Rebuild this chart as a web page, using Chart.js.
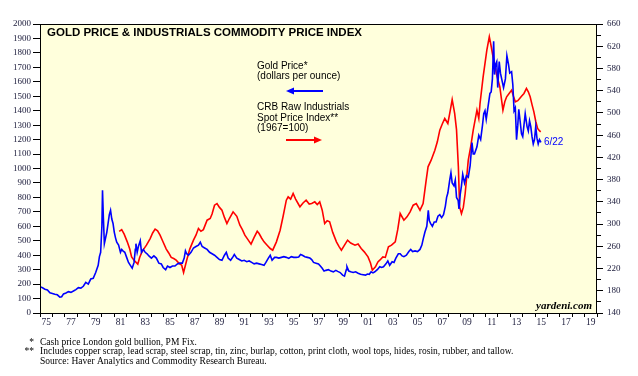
<!DOCTYPE html>
<html>
<head>
<meta charset="utf-8">
<script src="https://cdn.jsdelivr.net/npm/chart.js@4/dist/chart.umd.min.js"></script>
<style>
  body { margin: 0; background: #fff; }
  #wrap { width: 638px; height: 376px; }
</style>
</head>
<body>
<div id="wrap"><canvas id="chart" width="638" height="376"></canvas></div>
<script>
// gold price, dollars per ounce (left axis)
const goldDates = [
  1975.0, 1975.2, 1975.4, 1975.6, 1975.8,
  1976.0, 1976.2, 1976.4, 1976.6, 1976.75, 1976.9,
  1977.1, 1977.3, 1977.5, 1977.7, 1977.9,
  1978.1, 1978.3, 1978.5, 1978.7, 1978.9,
  1979.1, 1979.3, 1979.5, 1979.7, 1979.8, 1979.9,
  1980.0, 1980.05, 1980.12, 1980.2, 1980.3, 1980.4, 1980.5, 1980.6, 1980.7, 1980.8, 1980.9,
  1981.0, 1981.1, 1981.2, 1981.35, 1981.5, 1981.6, 1981.7, 1981.85,
  1982.0, 1982.15, 1982.3, 1982.45, 1982.6, 1982.7, 1982.75, 1982.85, 1982.95,
  1983.1, 1983.2, 1983.35, 1983.5, 1983.65, 1983.8,
  1984.0, 1984.2, 1984.4, 1984.6, 1984.8, 1984.95,
  1985.15, 1985.3, 1985.5, 1985.7, 1985.9,
  1986.1, 1986.3, 1986.5, 1986.65, 1986.75, 1986.85,
  1987.0, 1987.2, 1987.4, 1987.6, 1987.8, 1987.95,
  1988.1, 1988.3, 1988.5, 1988.7, 1988.9,
  1989.1, 1989.3, 1989.5, 1989.7, 1989.9,
  1990.05, 1990.2, 1990.4, 1990.6, 1990.7, 1990.9,
  1991.1, 1991.3, 1991.5, 1991.7, 1991.9,
  1992.1, 1992.3, 1992.5, 1992.7, 1992.9,
  1993.1, 1993.25, 1993.45, 1993.6, 1993.75, 1993.95,
  1994.1, 1994.3, 1994.5, 1994.7, 1994.9,
  1995.1, 1995.3, 1995.5, 1995.7, 1995.9,
  1996.05, 1996.2, 1996.4, 1996.6, 1996.8, 1996.95,
  1997.1, 1997.3, 1997.5, 1997.65, 1997.8, 1997.95,
  1998.1, 1998.3, 1998.5, 1998.7, 1998.9,
  1999.05, 1999.25, 1999.45, 1999.6, 1999.75, 1999.8, 1999.95,
  2000.1, 2000.3, 2000.5, 2000.7, 2000.9,
  2001.1, 2001.3, 2001.45, 2001.6, 2001.75, 2001.9,
  2002.05, 2002.25, 2002.45, 2002.6, 2002.75, 2002.95,
  2003.1, 2003.25, 2003.45, 2003.6, 2003.75, 2003.95,
  2004.1, 2004.25, 2004.4, 2004.6, 2004.8, 2004.95,
  2005.1, 2005.3, 2005.5, 2005.7, 2005.85, 2005.98,
  2006.1, 2006.25, 2006.37, 2006.45, 2006.55, 2006.7, 2006.85,
  2007.0, 2007.15, 2007.3, 2007.45, 2007.6, 2007.75, 2007.85, 2007.95,
  2008.1, 2008.2, 2008.3, 2008.45, 2008.55, 2008.65, 2008.78, 2008.85, 2008.95,
  2009.05, 2009.15, 2009.3, 2009.45, 2009.6, 2009.75, 2009.9,
  2010.0, 2010.1, 2010.3, 2010.45, 2010.6, 2010.75, 2010.85, 2010.95,
  2011.05, 2011.2, 2011.35, 2011.45, 2011.55, 2011.65, 2011.72, 2011.8, 2011.9, 2011.98,
  2012.1, 2012.2, 2012.35, 2012.45, 2012.6, 2012.72, 2012.85, 2012.95,
  2013.1, 2013.2, 2013.3, 2013.4, 2013.5, 2013.6, 2013.68, 2013.8, 2013.9,
  2014.0, 2014.1, 2014.2, 2014.35, 2014.45, 2014.55, 2014.65, 2014.75, 2014.85, 2014.95,
  2015.05, 2015.15, 2015.25, 2015.35, 2015.47
];
const goldPrices = [
  182, 175, 165, 160, 140,
  135, 130, 126, 110, 113, 132,
  138, 148, 143, 152, 162,
  175, 172, 185, 212, 200,
  235, 240, 280, 330, 390, 420,
  600, 850, 660, 480, 520, 560, 620, 680, 710, 650, 620,
  560, 520, 490, 470, 420, 440, 430, 420,
  385, 350, 330, 310, 350, 440, 480, 420, 460,
  500, 420, 440, 420, 410, 395,
  380, 395, 380, 345, 340, 315,
  300, 325, 315, 325, 325,
  340, 345, 345, 380, 430, 410,
  400, 420, 450, 460, 470, 490,
  460, 450, 440, 420, 410,
  400, 385, 370, 365, 400,
  420, 380, 365, 390, 405, 380,
  370, 360, 365, 355, 360,
  350, 340, 345, 340, 335,
  330, 350, 380, 400, 365, 385,
  385, 380, 385, 390, 385,
  378, 390, 385, 385, 388,
  405, 400, 390, 385, 380, 370,
  350, 345, 340, 325, 310, 290,
  295, 300, 290, 285, 295,
  288, 280, 262, 255, 300, 320, 290,
  285, 280, 285, 275, 268,
  265, 262, 270, 268, 285, 278,
  285, 300, 320, 315, 320, 340,
  360, 330, 355, 350, 380, 410,
  410, 395, 390, 400, 425, 440,
  425, 430, 425, 440, 470, 520,
  560, 600, 710, 640, 620, 600, 630,
  630, 670, 680, 660, 680, 740, 800, 830,
  920, 970, 900, 880, 920, 800, 780, 720, 820,
  880, 960, 900, 950, 940, 1020, 1180,
  1100, 1100, 1150, 1230, 1200, 1300, 1380, 1400,
  1340, 1430, 1520, 1530, 1620, 1880, 1650, 1720, 1740, 1560,
  1740, 1660, 1600, 1560, 1620, 1780, 1720, 1660,
  1670, 1580, 1400, 1420, 1200, 1300, 1410, 1320, 1240,
  1220, 1300, 1380, 1290, 1260, 1330, 1290, 1220, 1170, 1200,
  1290, 1210, 1170, 1200, 1180
];

// CRB raw industrials spot price index, 1967=100 (right axis)
const crbDates = [
  1981.4, 1981.6, 1981.8,
  1982.05, 1982.25, 1982.4, 1982.6, 1982.9,
  1983.05, 1983.2, 1983.35, 1983.6, 1983.9,
  1984.1, 1984.3, 1984.5, 1984.7, 1984.9,
  1985.2, 1985.4, 1985.6, 1985.8,
  1986.0, 1986.25, 1986.45, 1986.6, 1986.85,
  1987.1, 1987.4, 1987.6, 1987.8,
  1988.0, 1988.2, 1988.5, 1988.75, 1988.9,
  1989.1, 1989.3, 1989.5, 1989.7, 1989.9,
  1990.1, 1990.3, 1990.6, 1990.9,
  1991.15, 1991.35, 1991.55, 1991.8,
  1992.05, 1992.3, 1992.55, 1992.7, 1992.9,
  1993.1, 1993.35, 1993.6, 1993.8,
  1994.1, 1994.4, 1994.65, 1994.9,
  1995.05, 1995.25, 1995.45, 1995.65, 1995.85,
  1996.0, 1996.25, 1996.5, 1996.75, 1996.95,
  1997.2, 1997.4, 1997.6, 1997.8,
  1998.0, 1998.2, 1998.4, 1998.65, 1998.95,
  1999.15, 1999.35, 1999.6, 1999.85,
  2000.1, 2000.45, 2000.7, 2000.95,
  2001.2, 2001.5, 2001.7, 2001.85,
  2002.1, 2002.3, 2002.45, 2002.7, 2002.9,
  2003.15, 2003.4, 2003.7, 2003.9,
  2004.1, 2004.4, 2004.65, 2004.9,
  2005.15, 2005.4, 2005.7, 2005.95,
  2006.2, 2006.35, 2006.6, 2006.9,
  2007.1, 2007.3, 2007.5, 2007.7, 2007.95,
  2008.15, 2008.3, 2008.5, 2008.65, 2008.8, 2008.9,
  2009.05, 2009.2, 2009.35, 2009.6, 2009.8,
  2010.0, 2010.3, 2010.45, 2010.55, 2010.8,
  2011.1, 2011.3, 2011.45, 2011.6, 2011.9,
  2012.15, 2012.4, 2012.55, 2012.7, 2012.9,
  2013.1, 2013.25, 2013.4, 2013.6, 2013.75, 2013.9,
  2014.1, 2014.3, 2014.45, 2014.6, 2014.75, 2014.9,
  2015.05, 2015.2, 2015.35, 2015.45
];
const crbValues = [
  287, 290, 282,
  268, 255, 241, 235, 228,
  240, 248, 254, 262, 274,
  284, 291, 288, 280, 270,
  255, 248, 240, 238,
  235, 229, 226, 213, 235,
  255, 271, 280, 292,
  287, 290, 307, 310, 318,
  334, 337, 330, 325, 312,
  301, 310, 322, 314,
  298, 290, 280, 272,
  264, 276, 287, 283, 275,
  268, 262, 256, 253,
  268, 289, 315, 343,
  349, 345, 355, 345, 337,
  331, 338, 343, 336, 337,
  340, 335, 340, 325,
  301, 306, 304, 285, 268,
  260, 253, 262, 271,
  266, 262, 264, 256,
  250, 241, 230, 217,
  223, 232, 235, 241, 240,
  259, 262, 268, 290,
  319, 307, 313, 322,
  334, 337, 325, 337,
  379, 403, 415, 433,
  448, 469, 480, 490, 481,
  505, 524, 499, 470, 403, 331,
  319, 330, 355, 415, 440,
  469, 505, 490, 517, 565,
  613, 637, 620, 601, 568,
  547, 505, 520, 529, 535,
  541, 530, 520, 522, 526, 530,
  535, 544, 538, 529, 515, 502,
  485, 472, 468, 466
];

const tickYears = [1975, 1977, 1979, 1981, 1983, 1985, 1987, 1989, 1991, 1993, 1995,
  1997, 1999, 2001, 2003, 2005, 2007, 2009, 2011, 2013, 2015, 2017, 2019];
const tickLabels = ['75', '77', '79', '81', '83', '85', '87', '89', '91', '93', '95',
  '97', '99', '01', '03', '05', '07', '09', '11', '13', '15', '17', '19'];

const lastLabel = '6/22';

const footnotes = [
  ['*', 'Cash price London gold bullion, PM Fix.'],
  ['**', 'Includes copper scrap, lead scrap, steel scrap, tin, zinc, burlap, cotton, print cloth, wool tops, hides, rosin, rubber, and tallow.'],
  ['', 'Source: Haver Analytics and Commodity Research Bureau.']
];

const serif = '"Liberation Serif", "Times New Roman", serif';
const sans = '"Liberation Sans", Arial, sans-serif';

function arrow(ctx, x1, x2, y, color) {
  // head at x2
  const dir = x2 > x1 ? 1 : -1;
  ctx.strokeStyle = color;
  ctx.fillStyle = color;
  ctx.lineWidth = 2;
  ctx.beginPath();
  ctx.moveTo(x1, y);
  ctx.lineTo(x2 - dir * 6, y);
  ctx.stroke();
  ctx.beginPath();
  ctx.moveTo(x2, y);
  ctx.lineTo(x2 - dir * 8, y - 3.5);
  ctx.lineTo(x2 - dir * 8, y + 3.5);
  ctx.closePath();
  ctx.fill();
}

const decor = {
  id: 'decor',
  beforeDatasetsDraw(chart) {
    const { ctx, chartArea: a } = chart;
    ctx.save();
    ctx.fillStyle = '#FFFFDC';
    ctx.fillRect(a.left, a.top, a.right - a.left, a.bottom - a.top);
    ctx.restore();
  },
  afterDraw(chart) {
    const { ctx, chartArea: a, scales } = chart;
    ctx.save();
    ctx.strokeStyle = '#000';
    ctx.lineWidth = 1;
    ctx.strokeRect(a.left + 0.5, a.top + 0.5, a.right - a.left - 1, a.bottom - a.top);

    ctx.fillStyle = '#000';
    ctx.textBaseline = 'middle';
    ctx.font = 'bold 11.5px ' + sans;
    ctx.fillText('GOLD PRICE & INDUSTRIALS COMMODITY PRICE INDEX', a.left + 7, a.top + 9);

    ctx.font = '10px ' + sans;
    ctx.fillText('Gold Price*', 257, 66);
    ctx.fillText('(dollars per ounce)', 257, 76);
    arrow(ctx, 323, 286, 91, '#0000FF');
    ctx.fillStyle = '#000';
    ctx.fillText('CRB Raw Industrials', 257, 107);
    ctx.fillText('Spot Price Index**', 257, 118);
    ctx.fillText('(1967=100)', 257, 128);
    arrow(ctx, 286, 322, 140, '#FF0000');

    // label at last gold value
    const n = goldDates.length - 1;
    ctx.fillStyle = '#0000FF';
    ctx.fillText(lastLabel, scales.x.getPixelForValue(goldDates[n]) + 3, scales.y.getPixelForValue(goldPrices[n]));

    ctx.fillStyle = '#000';
    ctx.font = 'italic bold 11px ' + serif;
    ctx.textAlign = 'right';
    ctx.fillText('yardeni.com', a.right - 5, a.bottom - 7);

    ctx.font = '9.5px ' + serif;
    footnotes.forEach((f, i) => {
      const y = 342 + i * 9.7;
      ctx.textAlign = 'right';
      ctx.fillText(f[0], 34, y);
      ctx.textAlign = 'left';
      ctx.fillText(f[1], 40, y);
    });
    ctx.restore();
  }
};

const halfYears = [];
for (let v = 1975; v <= 2020; v += 0.5) halfYears.push(v);

const chart = new Chart(document.getElementById('chart'), {
  type: 'line',
  data: {
    datasets: [
      {
        label: 'Gold Price',
        data: goldDates.map((d, i) => ({ x: d, y: goldPrices[i] })),
        borderColor: '#0000FF',
        borderWidth: 1.6,
        yAxisID: 'y'
      },
      {
        label: 'CRB Raw Industrials',
        data: crbDates.map((d, i) => ({ x: d, y: crbValues[i] })),
        borderColor: '#FF0000',
        borderWidth: 1.6,
        yAxisID: 'y2'
      }
    ]
  },
  options: {
    responsive: false,
    animation: false,
    devicePixelRatio: 1,
    layout: { padding: { top: 24, left: 0, right: 0, bottom: 0 } },
    elements: { point: { radius: 0 }, line: { tension: 0 } },
    plugins: { legend: { display: false }, tooltip: { enabled: false } },
    scales: {
      x: {
        type: 'linear',
        min: 1975,
        max: 2020,
        afterBuildTicks: s => { s.ticks = halfYears.map(v => ({ value: v })); },
        afterFit: s => { s.height = 63; },
        border: { display: false },
        grid: {
          drawOnChartArea: false,
          tickLength: 4,
          tickColor: c => (c.tick && c.tick.value % 1 === 0 ? '#000' : 'rgba(0,0,0,0)')
        },
        ticks: {
          autoSkip: false,
          maxRotation: 0,
          minRotation: 0,
          padding: 0,
          color: '#1a1a3a',
          font: { family: serif, size: 9.5 },
          callback: v => {
            const i = tickYears.indexOf(v - 0.5);
            return i >= 0 ? tickLabels[i] : '';
          }
        }
      },
      y: {
        position: 'left',
        min: 0,
        max: 2000,
        afterFit: s => { s.width = 40; },
        border: { display: false },
        grid: { drawOnChartArea: false, tickLength: 7, tickColor: '#000' },
        ticks: {
          stepSize: 100,
          autoSkip: false,
          padding: 2,
          color: '#1a1a3a',
          font: { family: serif, size: 9 },
          callback: v => String(v)
        }
      },
      y3: {
        position: 'right',
        weight: -1,
        min: 140,
        max: 660,
        afterFit: s => { s.width = 0; },
        border: { display: false },
        grid: { drawOnChartArea: false, tickLength: 4, tickColor: '#000' },
        ticks: { stepSize: 20, display: false }
      },
      y2: {
        position: 'right',
        weight: 0,
        min: 140,
        max: 660,
        afterFit: s => { s.width = 41; },
        border: { display: false },
        grid: { drawOnChartArea: false, tickLength: 6, tickColor: '#000' },
        ticks: {
          stepSize: 40,
          autoSkip: false,
          padding: 4,
          color: '#1a1a3a',
          font: { family: serif, size: 9 },
          callback: v => String(v)
        }
      }
    }
  },
  plugins: [decor]
});
</script>
</body>
</html>
